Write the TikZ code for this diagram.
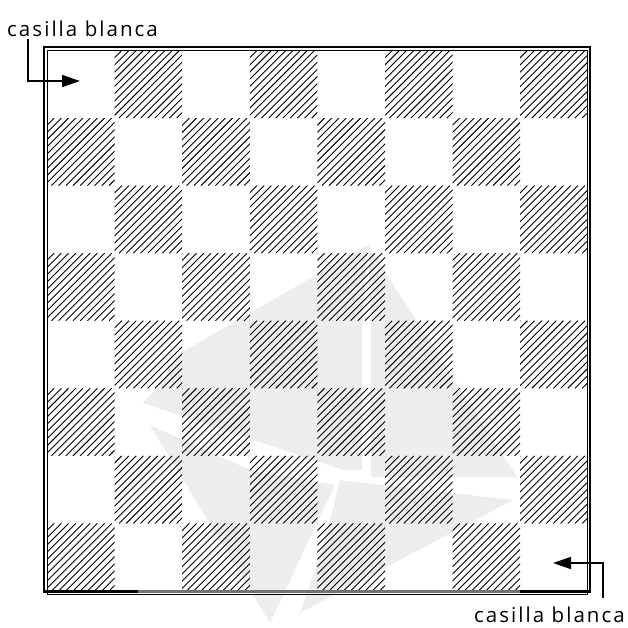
\documentclass[tikz,border=0pt]{standalone}
\usepackage{fontspec}
\setmainfont{Open Sans}
\newfontfamily\lblfont[LetterSpace=10]{Open Sans}
\usetikzlibrary{arrows.meta,calc}

\begin{document}
\begin{tikzpicture}[x=1pt,y=-1pt,
    hatchln/.style={line width=0.9pt},
    logo/.style={fill=black!7,draw=none},
    framethick/.style={line width=2.6pt},
    framethin/.style={line width=0.8pt},
    pointer/.style={line width=1.7pt,-{Triangle[length=18pt,width=12pt]}},
    lbl/.style={inner sep=0pt,font=\lblfont\fontsize{20.5}{24}\selectfont}]
  \useasboundingbox (0,0) rectangle (628,627);
  % Watermark behind the board
  \path[logo] (368,245) -- (177,355) -- (160,385) -- (143,403) -- (343,470)
        -- (362,470) -- (362,328) -- cycle;
  \path[logo] (368,245) -- (517,477) -- (371,477) -- (371,328) -- cycle;
  \path[logo] (150,425) -- (250,470) -- (335,485) -- (270,623) -- cycle;
  \path[logo] (340,480) -- (513,500) -- (300,613) -- (325,540) -- cycle;
  % Board: hatched squares
  \foreach \row in {0,...,7}
    \foreach \col in {0,...,7} {
      \pgfmathtruncatemacro{\odd}{mod(\row+\col,2)}
      \pgfmathsetmacro{\xo}{47+\col*67.6}
      \pgfmathsetmacro{\yo}{50.5+\row*67.56}
      \ifnum\odd=1
        \begin{scope}
          \clip (\xo,\yo) rectangle ++(67.6,67.56);
          \foreach \k in {0,...,19}
            \draw[hatchln] (\xo-67.6+\k*7.2,\yo+67.56) -- ++(67.6,-67.6);
        \end{scope}
      \fi
    }
  % Double frame
  \draw[framethick] (44,47) rectangle (590,591.5);
  \draw[framethin] (47,50.5) rectangle (587.5,594.5);
  \draw[framethick,black!55] (138,591.5) -- (520,591.5);
  % Labels and pointers
  \node[lbl,anchor=base west] (lblTop) at (7,36) {casilla blanca};
  \node[lbl,anchor=base east] (lblBot) at (625,622) {casilla blanca};
  \coordinate (tailTop) at (28,39);
  \coordinate (tipTop) at (80,81);
  \coordinate (tailBot) at (603,598);
  \coordinate (tipBot) at (553,563);
  \draw[pointer] (tailTop) |- (tipTop);
  \draw[pointer] (tailBot) |- (tipBot);
\end{tikzpicture}
\end{document}
